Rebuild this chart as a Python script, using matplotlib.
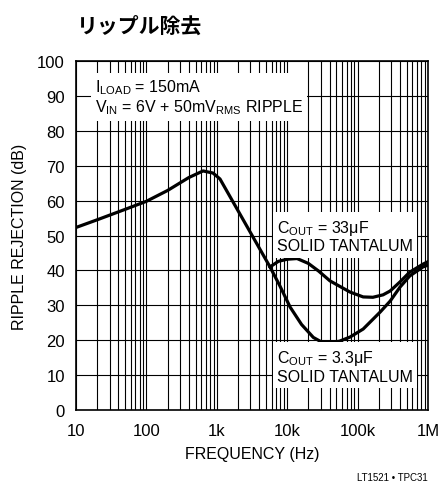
import matplotlib.pyplot as plt
import numpy as np

plt.rcParams['font.family'] = ['Liberation Sans', 'DejaVu Sans']
plt.rcParams['mathtext.fontset'] = 'custom'
plt.rcParams['mathtext.rm'] = 'Liberation Sans'
plt.rcParams['mathtext.it'] = 'Liberation Sans'

# 共通部分（分岐前）
freq_common = [10, 20, 50, 100, 200, 400, 637, 883, 1110, 5700]
rej_common = [52.3, 54.5, 57.5, 59.8, 62.9, 66.6, 68.5, 67.9, 66.2, 41.0]

# COUT = 33µF
freq_33 = [5700, 7500, 10000, 13800, 20000, 28000, 40500, 78000, 120000, 165000,
           230000, 290000, 400000, 550000, 850000, 1000000]
rej_33 = [41.0, 42.6, 43.2, 43.4, 42.0, 39.8, 37.0, 33.8, 32.4, 32.3,
          33.0, 34.1, 36.7, 39.5, 41.8, 42.5]

# COUT = 3.3µF
freq_3 = [5700, 7900, 11000, 16000, 23500, 30000, 38000, 55000, 78000, 120000,
          210000, 290000, 400000, 550000, 850000, 1000000]
rej_3 = [41.0, 35.5, 29.5, 24.5, 20.8, 19.6, 19.3, 19.7, 20.9, 23.2,
         28.1, 31.2, 35.2, 38.4, 41.0, 41.5]

fig = plt.figure(figsize=(4.4, 4.89), dpi=100)
ax = fig.add_axes([0.1727, 0.1595, 0.8, 0.7137])

ax.set_xscale('log')
ax.set_xlim(10, 1e6)
ax.set_ylim(0, 100)
ax.set_yticks(np.arange(0, 101, 10))
ax.set_xticks([10, 100, 1e3, 1e4, 1e5, 1e6])
ax.set_xticklabels(['10', '100', '1k', '10k', '100k', '1M'])
ax.grid(True, which='both', color='black', linewidth=0.8)
ax.tick_params(which='both', length=0, labelsize=12)
ax.tick_params(axis='y', pad=8)
ax.tick_params(axis='x', pad=9)
for s in ax.spines.values():
    s.set_linewidth(1.2)

lw = 2.3
ax.plot(freq_common, rej_common, color='black', lw=lw, solid_joinstyle='round')
ax.plot(freq_33, rej_33, color='black', lw=lw, solid_joinstyle='round')
ax.plot(freq_3, rej_3, color='black', lw=lw, solid_joinstyle='round')

box = dict(facecolor='white', edgecolor='none', pad=3)
ax.text(18.5, 89.7, 'I$_{\\mathregular{LOAD}}$ = 150mA\nV$_{\\mathregular{IN}}$ = 6V + 50mV$_{\\mathregular{RMS}}$ RIPPLE',
        fontsize=11.5, va='center', ha='left', bbox=box, linespacing=1.1, zorder=3)
ax.text(7100, 49.9, 'C$_{\\mathregular{OUT}}$ = 33μF\nSOLID TANTALUM',
        fontsize=11.5, va='center', ha='left', bbox=box, linespacing=1.1, zorder=3)
ax.text(7100, 12.6, 'C$_{\\mathregular{OUT}}$ = 3.3μF\nSOLID TANTALUM',
        fontsize=11.5, va='center', ha='left', bbox=box, linespacing=1.1, zorder=3)

ax.set_xlabel('FREQUENCY (Hz)', fontsize=11.5, labelpad=6)
ax.set_ylabel('RIPPLE REJECTION (dB)', fontsize=11.5, labelpad=7)

fig.text(77 / 440, 1 - 26 / 489, 'リップル除去', fontsize=15, fontweight='bold',
         family=['Noto Sans CJK JP'], ha='left', va='center')
fig.text(428 / 440, 1 - 478 / 489, 'LT1521 • TPC31', fontsize=7, ha='right', va='center')

fig.savefig('out.png', dpi=100)
